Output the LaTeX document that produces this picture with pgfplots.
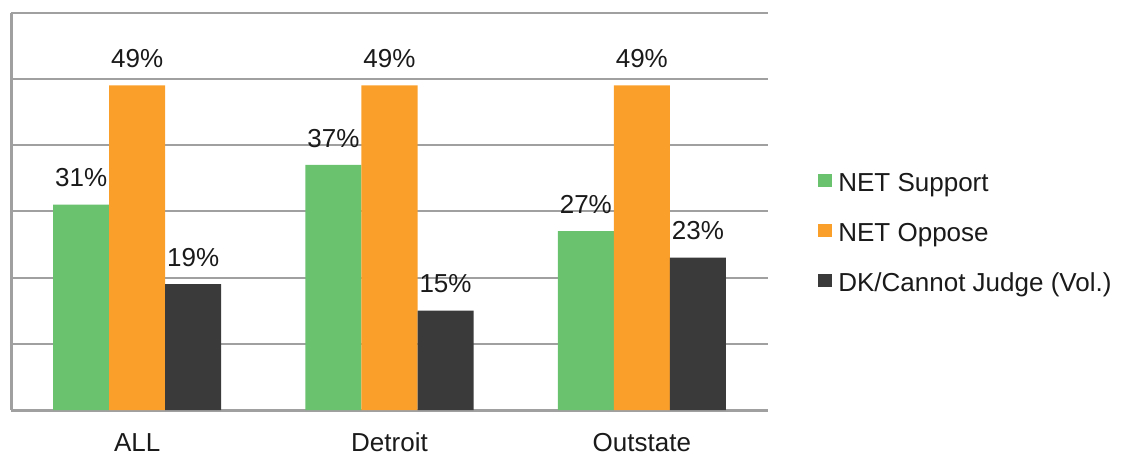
\documentclass[border=0pt]{standalone}
\usepackage{fontspec}
\setmainfont{Liberation Sans}
\usepackage{pgfplots}
\pgfplotsset{compat=1.18}
\definecolor{cgreen}{HTML}{6AC16E}
\definecolor{corange}{HTML}{FA9F2A}
\definecolor{cdark}{HTML}{3A3A3A}
\definecolor{cgrid}{HTML}{A0A0A0}
\definecolor{ctext}{HTML}{1A1A1A}
\begin{document}
\begin{tikzpicture}
\useasboundingbox (-5.5pt,-23pt) rectangle (555.5pt,205pt);
\begin{axis}[
  at={(0,0)}, anchor=south west,
  scale only axis, width=378.5pt, height=198.75pt,
  ybar=0pt, bar width=0.222,
  xmin=-0.5, xmax=2.5, ymin=0, ymax=60,
  xtick={0,1,2}, xticklabels={ALL,Detroit,Outstate},
  ytick={0,10,...,60}, yticklabels={},
  major tick length=0pt,
  ymajorgrids, grid style={cgrid, line width=1pt},
  axis x line*=bottom, axis y line*=left,
  axis line style={cgrid, line width=1.5pt, -},
  /pgf/number format/assume math mode=true,
  tick label style={font=\fontsize{13pt}{15pt}\selectfont, text=ctext},
  xticklabel style={anchor=base, yshift=-20.5pt},
  nodes near coords={\pgfmathprintnumber{\pgfplotspointmeta}\%},
  every node near coord/.append style={font=\fontsize{13pt}{15pt}\selectfont, text=ctext, anchor=south, inner sep=0pt, yshift=8.5pt},
  legend image code/.code={\fill[#1] (0pt,-1pt) rectangle (7pt,5.5pt);},
  legend style={at={(rel axis cs:1.066,0.598)}, anchor=north west, draw=none, fill=none, inner sep=0pt,
    font=\fontsize{13pt}{15pt}\selectfont, text=ctext,
    nodes={inner sep=0pt, text height=9.5pt, text depth=2.5pt},
    column sep=3pt, row sep=13pt},
  legend cell align=left,
]
\addplot[fill=cgreen, draw=none] coordinates {(0,31) (1,37) (2,27)};
\addplot[fill=corange, draw=none] coordinates {(0,49) (1,49) (2,49)};
\addplot[fill=cdark, draw=none] coordinates {(0,19) (1,15) (2,23)};
\legend{NET Support, NET Oppose, DK/Cannot Judge (Vol.)}
\end{axis}
\end{tikzpicture}
\end{document}
